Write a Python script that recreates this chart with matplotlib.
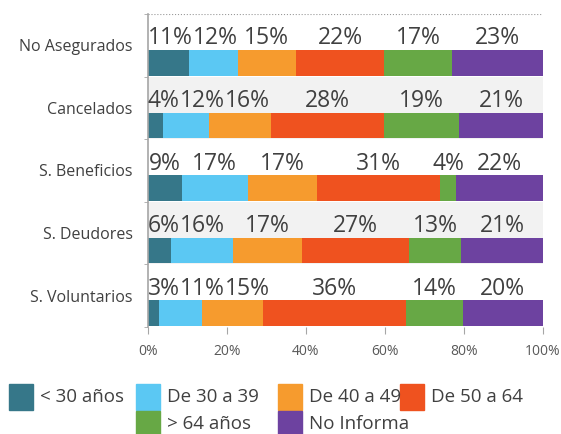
import matplotlib.pyplot as plt
from matplotlib.patches import Rectangle

plt.rcParams['font.family'] = ['Open Sans', 'DejaVu Sans']

categories = ['No Asegurados', 'Cancelados', 'S. Beneficios', 'S. Deudores', 'S. Voluntarios']
groups = ['< 30 años', 'De 30 a 39', 'De 40 a 49', 'De 50 a 64', '> 64 años', 'No Informa']
# segment widths (shares in %)
shares = [
    [10.3, 12.5, 14.6, 22.4, 17.1, 23.1],
    [3.8, 11.6, 15.8, 28.6, 19.0, 21.2],
    [8.5, 16.8, 17.6, 31.1, 4.0, 22.0],
    [5.7, 15.9, 17.4, 27.2, 13.1, 20.7],
    [2.9, 10.7, 15.4, 36.2, 14.5, 20.3],
]
# printed labels
labels = [
    [11, 12, 15, 22, 17, 23],
    [4, 12, 16, 28, 19, 21],
    [9, 17, 17, 31, 4, 22],
    [6, 16, 17, 27, 13, 21],
    [3, 11, 15, 36, 14, 20],
]
colors = ['#367789', '#5BC8F3', '#F69B2E', '#EF521F', '#67A845', '#6D42A0']
xticks = [0, 20, 40, 60, 80, 100]

fig = plt.figure(figsize=(5.61, 4.34), dpi=100)
ax = fig.add_axes([148 / 561, 1 - 327 / 434, 395 / 561, 313 / 434])

txt = '#404040'
n = len(categories)
row_texts = []
for i, row in enumerate(shares):
    if i % 2 == 1:
        ax.axhspan(i - 0.5, i + 0.5, color='#F2F2F2', zorder=0, lw=0)
    left = 0
    texts = []
    for j, v in enumerate(row):
        ax.barh(i + 0.28, v, left=left, height=0.41, color=colors[j], zorder=2)
        t = ax.text(left + v / 2, i - 0.11, f'{labels[i][j]}%', ha='center', va='center',
                    fontsize=16.5, color=txt, zorder=3)
        texts.append(t)
        left += v
    row_texts.append(texts)

ax.set_xlim(0, 100)
ax.set_ylim(n - 0.5, -0.5)
ax.axhline(-0.5, color='#999999', lw=0.8, ls=':', zorder=1)

ax.set_yticks(range(n))
ax.set_yticklabels(categories, fontsize=11.5, color=txt)
ax.tick_params(axis='y', length=0, pad=11)
ax.set_yticks([k - 0.5 for k in range(n + 1)], minor=True)
ax.tick_params(axis='y', which='minor', length=3, color='#A6A6A6', direction='out')

ax.set_xticks(xticks)
ax.set_xticklabels([f'{t}%' for t in xticks], fontsize=10, color='#595959')
ax.tick_params(axis='x', length=5, color='#A6A6A6', pad=7)

for s in ['top', 'right', 'bottom']:
    ax.spines[s].set_visible(False)
ax.spines['left'].set_color('#A6A6A6')
ax.spines['left'].set_linewidth(1.2)

# push crowded labels to the right so they don't overlap (like the original)
fig.canvas.draw()
r = fig.canvas.get_renderer()
px_per_unit = ax.bbox.width / 100
for texts in row_texts:
    edge = 0
    for t in texts:
        bb = t.get_window_extent(r)
        w = bb.width / px_per_unit
        x, y = t.get_position()
        lo = x - w / 2
        if lo < edge:
            x += edge - lo
            t.set_position((x, y))
        edge = x + w / 2

# legend, laid out by hand (4 columns, second row starts in column 2)
slots = [(9, 397), (136, 397), (278, 397), (400, 397), (136, 424), (278, 424)]
for (px, py), c, g in zip(slots, colors, groups):
    fig.patches.append(Rectangle((px / 561, 1 - (py + 13) / 434), 24 / 561, 26 / 434,
                                 transform=fig.transFigure, color=c))
    fig.text((px + 31) / 561, 1 - py / 434, g, fontsize=13.5, color=txt,
             ha='left', va='center')

fig.savefig('out.png', dpi=100)
